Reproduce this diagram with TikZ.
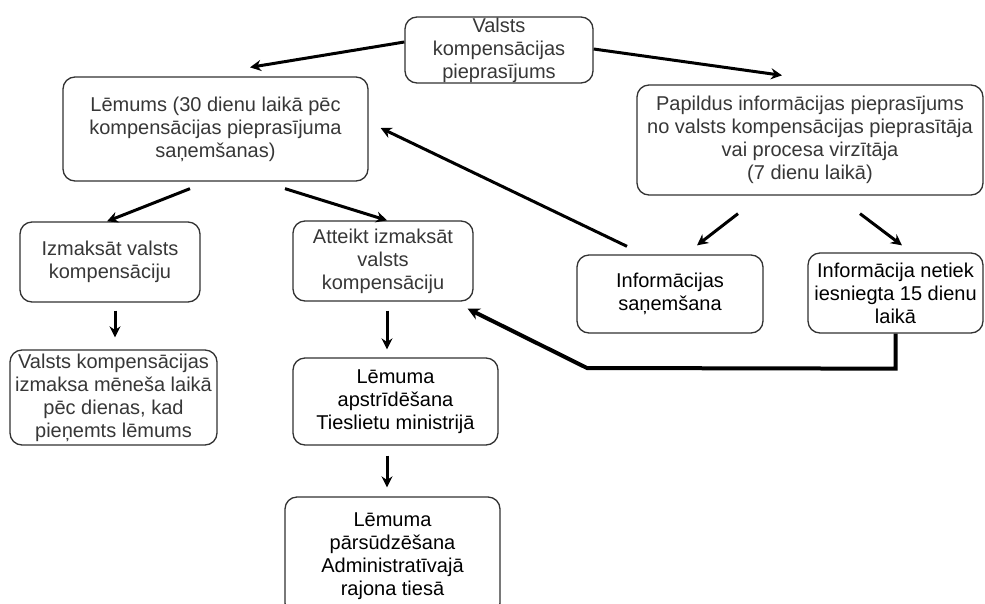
\documentclass[tikz,border=0pt]{standalone}
\usepackage{fontspec}
\setmainfont{Liberation Sans}
\usetikzlibrary{arrows.meta,calc}
\definecolor{txtgray}{RGB}{55,55,55}
\definecolor{boxline}{RGB}{50,50,50}
\tikzset{
  box/.style={draw=boxline, line width=1.3pt, rounded corners=12pt, fill=white,
    align=center, inner sep=0pt, text=txtgray,
    font=\fontsize{20}{23}\selectfont},
  darktext/.style={text=black},
  arr/.style={line width=3pt, draw=black, -{Stealth[length=11pt,width=11pt]}},
  elbow/.style={line width=4pt, draw=black, -{Stealth[length=12pt,width=12pt]}}
}
\begin{document}
\begin{tikzpicture}[x=1pt,y=-1pt]
\useasboundingbox (0,0) rectangle (985,603);
\fill[white] (0,0) rectangle (985,603);

\node[box, minimum width=188pt, minimum height=66pt] (top) at (499,50)
  {Valsts\\kompensācijas\\pieprasījums};
\node[box, minimum width=305pt, minimum height=104pt] (lem) at (215.5,129)
  {Lēmums (30 dienu laikā pēc\\kompensācijas pieprasījuma\\saņemšanas)};
\node[box, minimum width=346pt, minimum height=110pt] (pap) at (810,140)
  {Papildus informācijas pieprasījums\\no valsts kompensācijas pieprasītāja\\vai procesa virzītāja\\(7 dienu laikā)};
\node[box, minimum width=180pt, minimum height=80pt] (izm) at (110,262)
  {Izmaksāt valsts\\kompensāciju};
\node[box, minimum width=180pt, minimum height=80pt] (att) at (383,261)
  {Atteikt izmaksāt\\valsts\\kompensāciju};
\node[box, darktext, minimum width=186pt, minimum height=78pt] (infs) at (670,294)
  {Informācijas\\saņemšana};
\node[box, darktext, minimum width=175pt, minimum height=80pt] (net) at (895.5,293)
  {Informācija netiek\\iesniegta 15 dienu\\laikā};
\node[box, minimum width=207pt, minimum height=95pt] (izmk) at (113.5,397.5)
  {Valsts kompensācijas\\izmaksa mēneša laikā\\pēc dienas, kad\\pieņemts lēmums};
\node[box, darktext, minimum width=205pt, minimum height=87pt] (aps) at (395.5,401.5)
  {Lēmuma\\apstrīdēšana\\Tieslietu ministrijā};
\node[box, darktext, minimum width=215pt, minimum height=118pt] (par) at (392.5,556)
  {Lēmuma\\pārsūdzēšana\\Administratīvajā\\rajona tiesā};

\draw[arr] ($(top.west)+(0,-8)$) -- ($(lem.north)+(34.5,-9)$);
\draw[arr] ($(top.east)+(0,-1)$) -- ($(pap.north)+(-28,-9)$);
\draw[arr] ($(lem.south)+(-25.5,7)$) -- ($(izm.north)+(-3,0)$);
\draw[arr] ($(lem.south)+(69.5,7)$) -- ($(att.north)+(4,0)$);
\draw[arr] ($(pap.south)+(-72,18)$) -- ($(infs.north)+(27,-9)$);
\draw[arr] ($(pap.south)+(50,18)$) -- ($(net.north)+(6.5,-7)$);
\draw[arr] ($(infs.north)+(-43,-8)$) -- ($(lem.east)+(12,-1)$);
\draw[arr] ($(izm.south)+(5,8)$) -- ($(izmk.north)+(1.5,-12)$);
\draw[arr] ($(att.south)+(4,9)$) -- ($(aps.north)+(-8.5,-8)$);
\draw[arr] ($(aps.south)+(-8.5,10)$) -- ($(par.north)+(-5.5,-9)$);
\coordinate (elb1) at ($(net.south)+(0,35)$);
\coordinate (elb2) at (587,368);
\draw[elbow, line join=miter] (net.south) -- (elb1) -- (elb2) -- ($(att.south east)+(-6,7)$);
\end{tikzpicture}
\end{document}
